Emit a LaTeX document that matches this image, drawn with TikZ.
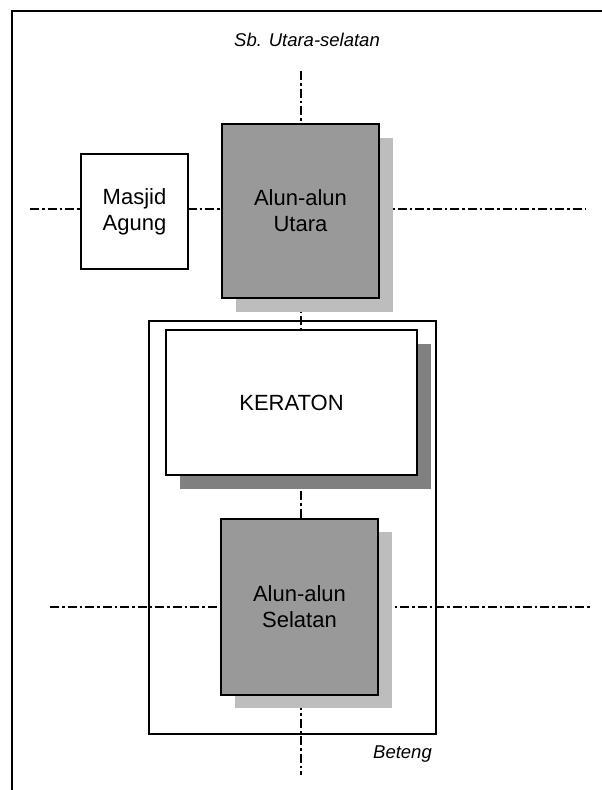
\documentclass[tikz,border=0pt]{standalone}
\usepackage{fontspec}
\setmainfont{Liberation Sans}
\begin{document}
\begin{tikzpicture}[x=1pt,y=-1pt,
  axisline/.style={line width=2.8pt, dash pattern=on 9pt off 3pt on 2.5pt off 3pt},
  boxlabel/.style={font=\fontsize{22}{26}\selectfont, align=center, text=black},
  plainbox/.style={draw=black, line width=2pt, fill=white, inner sep=0pt, boxlabel},
  greybox/.style={draw=black, line width=2.2pt, fill=black!40, inner sep=0pt, boxlabel},
  lightshadow/.style={fill=black!26, draw=none, inner sep=0pt},
  darkshadow/.style={fill=black!50, draw=none, inner sep=0pt},
  itlabel/.style={font=\fontsize{18.5}{22}\selectfont\itshape, inner sep=0pt}]
\useasboundingbox (0,0) rectangle (602,790);
% outer frame
\coordinate (ftr) at (602,11);
\coordinate (ftl) at (12,11);
\coordinate (fbl) at (12,790);
\draw[line width=1.6pt] (ftr) -- (ftl) -- (fbl);
% axes
\coordinate (vt) at (301,71);
\coordinate (vb) at (301,775);
\coordinate (hta) at (30,209);
\coordinate (htb) at (585,209);
\coordinate (hba) at (50,607);
\coordinate (hbb) at (592,607);
\draw[axisline] (vt) -- (vb);
\draw[axisline] (hta) -- (htb);
\draw[axisline] (hba) -- (hbb);
% Beteng
\node[draw=black, line width=1.6pt, inner sep=0pt, minimum width=287pt, minimum height=413pt] (beteng) at (292.5,527.5) {};
% shadows
\node[lightshadow, minimum width=157pt, minimum height=174pt] (utsh) at (314.5,225) {};
\node[darkshadow, minimum width=251pt, minimum height=145pt] (krsh) at (305.5,416.5) {};
\node[lightshadow, minimum width=157pt, minimum height=176pt] (slsh) at (313.5,620) {};
% boxes
\node[plainbox, minimum width=107pt, minimum height=115pt] (masjid) at (134.5,211.5) {Masjid\\Agung};
\node[greybox, minimum width=157pt, minimum height=174pt] (utara) at (300.5,211) {Alun-alun\\Utara};
\node[plainbox, minimum width=251pt, minimum height=145pt] (keraton) at (291.5,402.5) {KERATON};
\node[greybox, minimum width=157pt, minimum height=176pt] (selatan) at (299.5,607) {Alun-alun\\Selatan};
% labels
\node[itlabel] (sb) at (307,40) {Sb. Utara-selatan};
\node[itlabel, anchor=base east] (betenglabel) at (432,758) {Beteng};
\end{tikzpicture}
\end{document}
